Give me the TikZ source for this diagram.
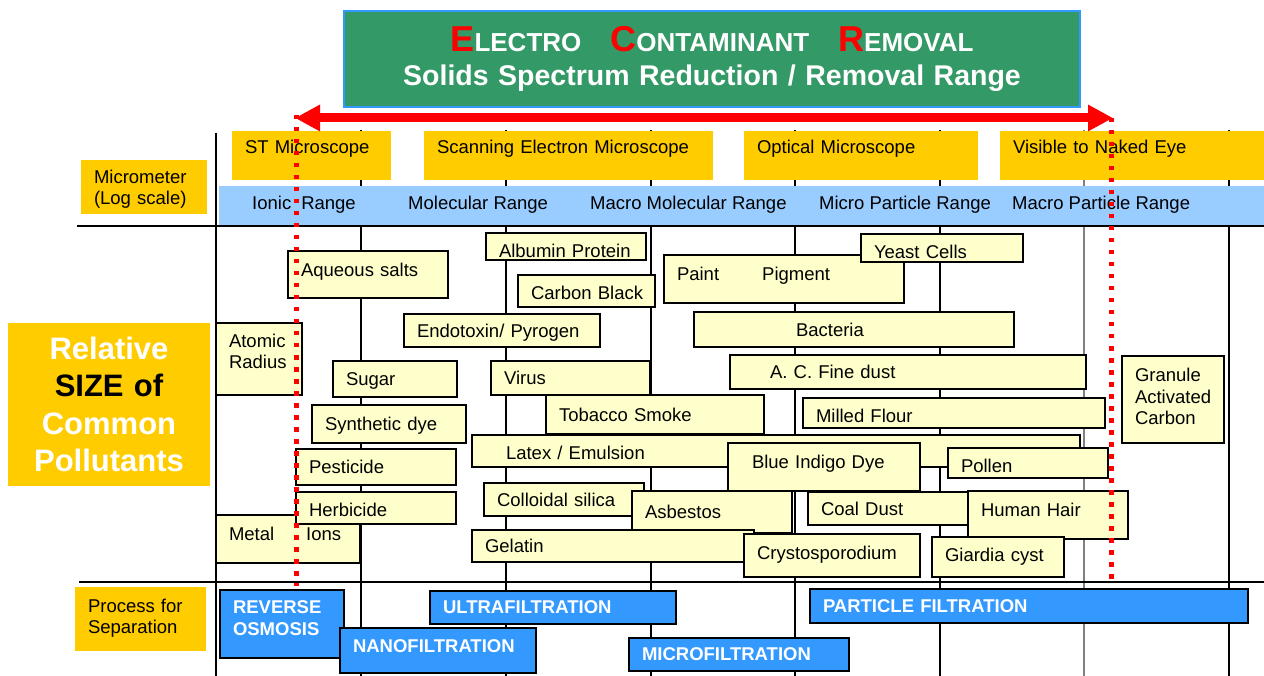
\documentclass[tikz,border=0pt]{standalone}
\usepackage{fontspec}
\setmainfont{Liberation Sans}
\usepackage{tikz}
\usetikzlibrary{arrows.meta,positioning}
\definecolor{gold}{HTML}{FFCC00}
\definecolor{cream}{HTML}{FFFFCC}
\definecolor{bandblue}{HTML}{99CCFF}
\definecolor{procblue}{HTML}{3399FF}
\definecolor{titlegreen}{HTML}{339966}
\definecolor{titleedge}{HTML}{3399FF}
\tikzset{
    %Define box size (width and height in px)
    wh/.code 2 args={%
           \pgfmathsetmacro\boxtw{#1-26}%
           \edef\whnext{\noexpand\pgfkeysalso{minimum width=#1pt,minimum height=#2pt,text width=\boxtw pt}}%
           \whnext},
    lift/.style={text depth=#1pt},
    drop/.style={text height=#1pt},
    %Define style for boxes
    cell/.style={
           rectangle,
           anchor=north west,
           outer sep=0pt,
           inner xsep=13pt,
           inner ysep=0pt,
           align=left,
           text depth=0pt,
           font=\fontsize{18.5}{21.5}\selectfont},
    particle/.style={
           cell,
           draw=black, line width=1.8pt,
           fill=cream},
    scopetag/.style={
           cell,
           fill=gold},
    process/.style={
           cell,
           draw=black, line width=1.6pt,
           fill=procblue,
           text=white,
           font=\bfseries\fontsize{18.5}{21.7}\selectfont},
    rangetext/.style={
           anchor=west,
           inner sep=0pt,
           text depth=0pt,
           font=\fontsize{18.5}{21.5}\selectfont},
    % Define line styles
    rule/.style={black, line width=1.6pt},
    bound/.style={red, line width=5pt, dash pattern=on 4.5pt off 7.5pt},
    reach/.style={
           red, line width=9pt,
           {Triangle[length=25pt,width=25pt]}-{Triangle[length=25pt,width=25pt]}}
}
\begin{document}
\begin{tikzpicture}[x=1pt,y=-1pt]
\useasboundingbox (0,0) rectangle (1264,676);

 %grid
\foreach \x in {361,506,651,795,940,1229}
    \draw[rule] (\x,130) -- (\x,676);
\draw[rule,black!50] (1084,130) -- (1084,676);
\draw[rule] (216,133) -- (216,676);
\draw[rule,line width=2pt] (77,226) -- (1264,226);
\draw[rule,line width=2pt] (79,582) -- (1264,582);

 %title
\node[cell, wh={736}{96}, fill=titlegreen, draw=titleedge, line width=2pt, align=center,
      text=white, font=\bfseries\fontsize{28.5}{34}\selectfont, lift=40] (title) at (344,11)
  {{\fontsize{36}{34}\selectfont\color{red}E}{\fontsize{26}{34}\selectfont LECTRO}\hspace{29pt}{\fontsize{36}{34}\selectfont\color{red}C}{\fontsize{26}{34}\selectfont ONTAMINANT}\hspace{29pt}{\fontsize{36}{34}\selectfont\color{red}R}{\fontsize{26}{34}\selectfont EMOVAL}\\Solids Spectrum Reduction / Removal Range};

 %left labels
\node[scopetag, wh={126}{54}, lift=21.1, inner xsep=12pt] (micrometer) at (81,160) {Micrometer\\(Log scale)};
\node[scopetag, wh={202}{163}, align=center, text=white, lift=112.5,
      font=\bfseries\fontsize{31}{37.5}\selectfont] (relative) at (8,323)
  {Relative\\{\color{black}SIZE of}\\Common\\Pollutants};
\node[scopetag, wh={131}{64}, lift=27.1, inner xsep=12pt] (separation) at (75,587) {Process for\\Separation};

 %scale rows
\node[scopetag, wh={159}{49}, lift=16.6] (stm) at (232,131) {ST Microscope};
\node[scopetag, wh={289}{49}, lift=16.6] (sem) at (424,131) {Scanning Electron Microscope};
\node[scopetag, wh={234}{49}, lift=16.6] (optical) at (744,131) {Optical Microscope};
\node[scopetag, wh={264}{49}, lift=16.6] (naked) at (1000,131) {Visible to Naked Eye};
\node[cell, fill=bandblue, minimum width=1045pt, minimum height=39pt] (band) at (219,186) {};
\node[rangetext] (ionic) at (252,203) {Ionic\hspace{10pt}Range};
\node[rangetext] (molecular) at (408,203) {Molecular Range};
\node[rangetext] (macromol) at (590,203) {Macro Molecular Range};
\node[rangetext] (microp) at (819,203) {Micro Particle Range};
\node[rangetext] (macrop) at (1012,203) {Macro Particle Range};

 %pollutants
\node[particle, wh={160}{27}, drop=21.5] (albumin) at (486,233) {Albumin Protein};
\node[particle, wh={240}{48}, lift=10] (paint) at (664,255) {Paint\hspace{43pt}Pigment};
\node[particle, wh={162}{28}, drop=21.5] (yeast) at (861,234) {Yeast Cells};
\node[particle, wh={160}{47}, lift=9] (aqueous) at (288,251) {Aqueous salts};
\node[particle, wh={137}{32}, drop=17.5] (carbon) at (518,275) {\mbox{Carbon Black}};
\node[particle, wh={196}{33}] (endotoxin) at (404,314) {Endotoxin/ Pyrogen};
\node[particle, wh={320}{35}] (bacteria) at (694,312) {\hspace{89pt}Bacteria};
\node[particle, wh={86}{72}, lift=36.6] (atomic) at (216,323) {Atomic\\Radius};
\node[particle, wh={124}{36}] (sugar) at (333,361) {Sugar};
\node[particle, wh={159}{34}] (virus) at (491,361) {Virus};
\node[particle, wh={356}{34}] (fine) at (730,355) {\hspace{27pt}A. C. Fine dust};
\node[particle, wh={102}{87}, lift=49.1] (granule) at (1122,356) {Granule\\Activated\\Carbon};
\node[particle, wh={218}{39}] (tobacco) at (546,395) {Tobacco Smoke};
\node[particle, wh={154}{38}] (synthetic) at (312,405) {Synthetic dye};
\node[particle, wh={302}{30}, drop=19.5] (milled) at (803,398) {Milled Flour};
\node[particle, wh={608}{32}, drop=17.5] (latex) at (472,435) {\hspace{21pt}Latex / Emulsion};
\node[particle, wh={192}{48}, lift=10] (indigo) at (728,443) {\hspace{11pt}Blue Indigo Dye};
\node[particle, wh={160}{30}, drop=19.5] (pollen) at (948,448) {Pollen};
\node[particle, wh={160}{36}] (pesticide) at (296,449) {Pesticide};
\node[particle, wh={144}{48}, lift=10] (metal) at (216,515) {Metal\hspace{32pt}Ions};
\node[particle, wh={160}{32}, drop=17.5] (herbicide) at (296,492) {Herbicide};
\node[particle, wh={160}{33}] (colloid) at (484,483) {Colloidal silica};
\node[particle, wh={160}{42}] (asbestos) at (632,491) {Asbestos};
\node[particle, wh={282}{32}] (gelatin) at (472,530) {Gelatin};
\node[particle, wh={176}{43}, lift=5] (crysto) at (744,534) {Crystosporodium};
\node[particle, wh={160}{33}] (coal) at (808,492) {Coal Dust};
\node[particle, wh={160}{48}, lift=10] (hair) at (968,491) {Human Hair};
\node[particle, wh={132}{40}, lift=4] (giardia) at (932,537) {Giardia cyst};

 %separation processes
\node[process, wh={246}{33}] (ultra) at (430,591) {ULTRAFILTRATION};
\node[process, wh={124}{68}, lift=33.6] (reverse) at (220,590) {REVERSE\\OSMOSIS};
\node[process, wh={196}{45}, lift=9] (nano) at (340,628) {NANOFILTRATION};
\node[process, wh={220}{33}] (micro) at (629,638) {MICROFILTRATION};
\node[process, wh={438}{34}] (particle) at (810,589) {PARTICLE FILTRATION};

 %removal range
\coordinate (lefttop) at (296,115);
\coordinate (leftbottom) at (296,586);
\coordinate (righttop) at (1111,118);
\coordinate (rightbottom) at (1111,583);
\coordinate (lefttip) at (295,118);
\coordinate (righttip) at (1113,118);
\draw[bound] (lefttop) -- (leftbottom);
\draw[bound] (righttop) -- (rightbottom);
\draw[reach] (lefttip) -- (righttip);

\end{tikzpicture}
\end{document}
